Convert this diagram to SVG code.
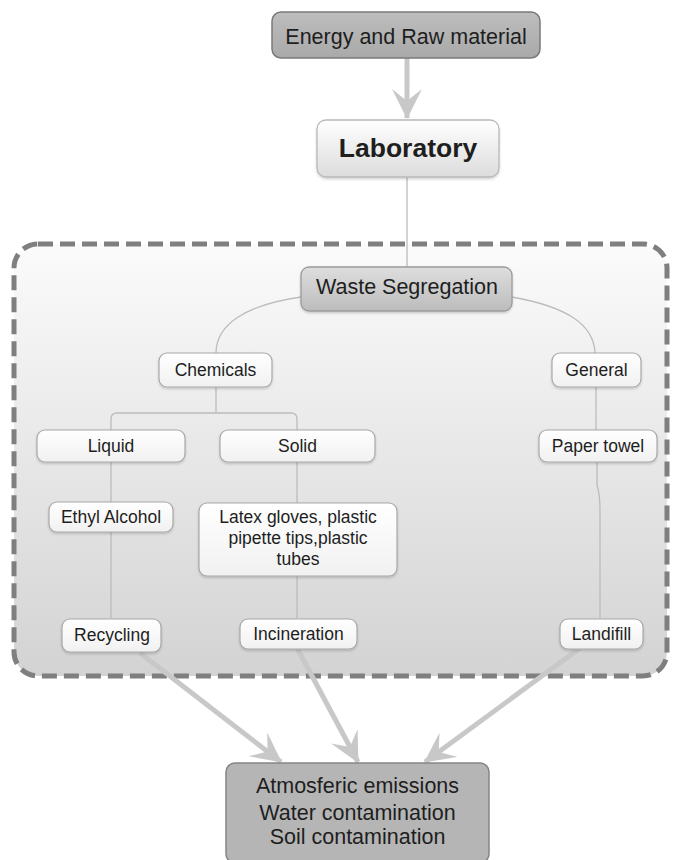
<svg xmlns="http://www.w3.org/2000/svg" width="681" height="860" viewBox="0 0 681 860">
  <defs>
    <linearGradient id="gPanel" x1="0" y1="0" x2="0" y2="1">
      <stop offset="0" stop-color="#fbfbfb"/>
      <stop offset="1" stop-color="#d3d3d3"/>
    </linearGradient>
    <linearGradient id="gWhite" x1="0" y1="0" x2="0" y2="1">
      <stop offset="0" stop-color="#ffffff"/>
      <stop offset="1" stop-color="#f1f1f1"/>
    </linearGradient>
    <linearGradient id="gLab" x1="0" y1="0" x2="0" y2="1">
      <stop offset="0" stop-color="#ffffff"/>
      <stop offset="1" stop-color="#dcdcdc"/>
    </linearGradient>
    <linearGradient id="gSeg" x1="0" y1="0" x2="0" y2="1">
      <stop offset="0" stop-color="#dedede"/>
      <stop offset="1" stop-color="#bcbcbc"/>
    </linearGradient>
    <linearGradient id="gDark" x1="0" y1="0" x2="0" y2="1">
      <stop offset="0" stop-color="#bdbdbd"/>
      <stop offset="1" stop-color="#a9a9a9"/>
    </linearGradient>
    <!-- dart-shaped arrowhead with a deep notch -->
    <marker id="head" viewBox="0 0 30 30" refX="29" refY="15" markerWidth="30" markerHeight="30" markerUnits="userSpaceOnUse" orient="auto">
      <path d="M0,0 L30,15 L0,30 L12,15 Z" fill="#c8c8c8"/>
    </marker>
    <filter id="sh" x="-10%" y="-10%" width="120%" height="140%">
      <feDropShadow dx="0" dy="1.5" stdDeviation="1.2" flood-color="#000" flood-opacity="0.18"/>
    </filter>
  </defs>
  <style>
    text { font-family: "Liberation Sans", Arial, sans-serif; fill: #1e1e1e; text-anchor: middle; }
    .s { font-size: 17.5px; }
    .box { fill: url(#gWhite); stroke: #a8a8a8; stroke-width: 1.2; filter: url(#sh); }
    .thin { fill: none; stroke: #bcbcbc; stroke-width: 1.3; }
    .big { fill: none; stroke: #c8c8c8; stroke-width: 5; marker-end: url(#head); }
  </style>

  <!-- dashed process boundary -->
  <rect id="boundary" x="14" y="244" width="653" height="432" rx="24" fill="url(#gPanel)" stroke="#7f7f7f" stroke-width="5" stroke-dasharray="15 7"/>

  <!-- connectors -->
  <g id="connectors">
    <path class="big" d="M407,58 L407,118"/>
    <path class="thin" d="M407,177 L407,267"/>
    <path class="thin" d="M301,297 C245,305 216,325 216,353"/>
    <path class="thin" d="M512,297 C568,307 594,325 595,353"/>
    <path class="thin" d="M216,387 L216,413"/>
    <path class="thin" d="M111,430 L111,419 Q111,413 117,413 L291,413 Q297,413 297,419 L297,430"/>
    <path class="thin" d="M111,462 L111,618"/>
    <path class="thin" d="M297,462 L297,618"/>
    <path class="thin" d="M596,387 L596,430"/>
    <path class="thin" d="M597,462 L597,485 Q600,495 600,510 L600,618"/>
    <path class="big" d="M140,653 L281,762"/>
    <path class="big" d="M297,648 L358,762"/>
    <path class="big" d="M580,648 L425,762"/>
  </g>

  <g id="energy">
    <rect x="272" y="12" width="268" height="46" rx="9" fill="url(#gDark)" stroke="#7a7a7a" stroke-width="1.5"/>
    <text x="406" y="44" font-size="21.5">Energy and Raw material</text>
  </g>

  <g id="laboratory">
    <rect x="317" y="120" width="182" height="57" rx="9" fill="url(#gLab)" stroke="#b8b8b8" stroke-width="1.3" filter="url(#sh)"/>
    <text x="408" y="157" font-size="26.5" font-weight="bold">Laboratory</text>
  </g>

  <g id="waste-segregation">
    <rect x="301" y="267" width="211" height="44" rx="8" fill="url(#gSeg)" stroke="#9a9a9a" stroke-width="1.3" filter="url(#sh)"/>
    <text x="407" y="294" font-size="21.5">Waste Segregation</text>
  </g>

  <g id="chemicals">
    <rect class="box" x="159" y="353" width="113" height="34" rx="8"/>
    <text class="s" x="215.5" y="376">Chemicals</text>
  </g>

  <g id="general">
    <rect class="box" x="552" y="353" width="89" height="34" rx="8"/>
    <text class="s" x="596.5" y="376">General</text>
  </g>

  <g id="liquid">
    <rect class="box" x="37" y="430" width="148" height="32" rx="8"/>
    <text class="s" x="111" y="452">Liquid</text>
  </g>

  <g id="solid">
    <rect class="box" x="220" y="430" width="155" height="32" rx="8"/>
    <text class="s" x="297.5" y="452">Solid</text>
  </g>

  <g id="paper-towel">
    <rect class="box" x="539" y="430" width="118" height="32" rx="8"/>
    <text class="s" x="598" y="452">Paper towel</text>
  </g>

  <g id="ethyl-alcohol">
    <rect class="box" x="49" y="502" width="124" height="30" rx="8"/>
    <text class="s" x="111" y="523">Ethyl Alcohol</text>
  </g>

  <g id="solid-items">
    <rect class="box" x="199" y="503" width="198" height="73" rx="8"/>
    <text class="s" x="298" y="523">Latex gloves, plastic</text>
    <text class="s" x="298" y="544">pipette tips,plastic</text>
    <text class="s" x="298" y="565">tubes</text>
  </g>

  <g id="recycling">
    <rect class="box" x="62" y="619" width="99" height="33" rx="8"/>
    <text class="s" x="112" y="641">Recycling</text>
  </g>

  <g id="incineration">
    <rect class="box" x="240" y="619" width="117" height="30" rx="8"/>
    <text class="s" x="298.5" y="640">Incineration</text>
  </g>

  <g id="landfill">
    <rect class="box" x="560" y="619" width="83" height="30" rx="8"/>
    <text class="s" x="601.5" y="640">Landifill</text>
  </g>

  <g id="impacts">
    <rect x="226" y="763" width="263" height="100" rx="9" fill="#b5b5b5" stroke="#858585" stroke-width="1.5"/>
    <text x="357.5" y="793" font-size="21.5">Atmosferic emissions</text>
    <text x="357.5" y="820" font-size="21.5">Water contamination</text>
    <text x="357.5" y="844" font-size="21.5">Soil contamination</text>
  </g>
</svg>
